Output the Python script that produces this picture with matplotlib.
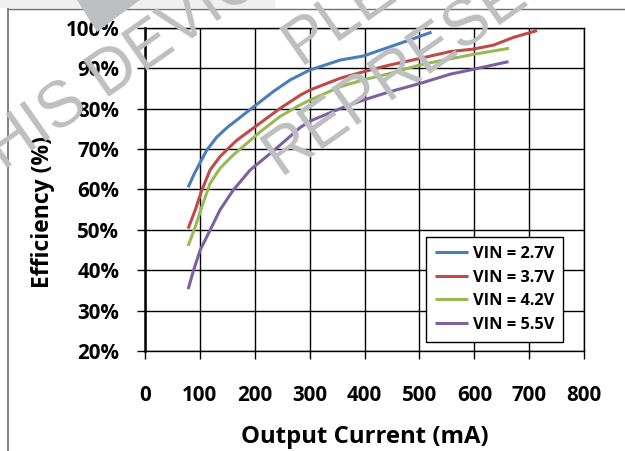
import matplotlib
matplotlib.use("Agg")
import matplotlib.pyplot as plt
from matplotlib.patches import Polygon, Rectangle
from matplotlib.lines import Line2D

# Efficiency vs. output current for four input voltages
series_labels = ["VIN = 2.7V", "VIN = 3.7V", "VIN = 4.2V", "VIN = 5.5V"]
series_colors = ["#4A7EBB", "#BE4B48", "#98B954", "#7D60A0"]

i_27 = [79, 90, 100, 113, 131, 150, 168, 198, 234, 265, 300, 356, 398, 447, 483, 522]
eff_27 = [60.5, 63.8, 66.4, 69.7, 72.9, 75.3, 77.2, 80.4, 84.2, 87.1, 89.5, 92.0, 93.0, 95.3, 97.0, 98.9]

i_37 = [79, 92, 104, 119, 137, 155, 168, 204, 246, 283, 301, 356, 398, 447, 501, 556, 598, 635, 671, 714]
eff_37 = [50.3, 54.9, 59.8, 64.8, 68.1, 70.5, 72.2, 75.8, 80.0, 83.3, 84.6, 87.5, 89.1, 90.8, 92.4, 94.1, 94.7, 95.7, 97.6, 99.3]

i_42 = [79, 92, 104, 119, 137, 161, 210, 246, 283, 301, 356, 398, 447, 501, 545, 598, 663]
eff_42 = [46.0, 50.7, 55.7, 61.5, 65.2, 68.5, 74.2, 78.0, 80.9, 82.1, 85.4, 87.1, 88.7, 90.8, 92.0, 93.4, 94.9]

i_55 = [79, 89, 101, 119, 137, 161, 192, 234, 262, 283, 301, 356, 398, 447, 501, 556, 598, 662]
eff_55 = [35.3, 40.0, 45.0, 49.9, 54.9, 59.8, 64.8, 69.5, 72.8, 75.3, 76.9, 80.0, 82.1, 84.2, 86.2, 88.5, 89.7, 91.6]

x_ticks = [0, 100, 200, 300, 400, 500, 600, 700, 800]
y_ticks = [20, 30, 40, 50, 60, 70, 80, 90, 100]
x_tick_labels = [str(v) for v in x_ticks]
y_tick_labels = [f"{v}%" for v in y_ticks]

W, H = 625, 451
fig = plt.figure(figsize=(W / 100, H / 100), dpi=100)
fig.patch.set_facecolor("white")

FONT = ["Open Sans", "DejaVu Sans"]

# outer chart frame (top and left edges)
fig.add_artist(Line2D([8 / W, 1.0], [1 - 9 / H, 1 - 9 / H], color="#6E6E6E", lw=1.0))
fig.add_artist(Line2D([8 / W, 8 / W], [0.0, 1 - 9 / H], color="#808080", lw=1.4))

ax = fig.add_axes([144.7 / W, 1 - 351 / H, (584.3 - 144.7) / W, (351 - 27.7) / H])
ax.set_xlim(0, 800)
ax.set_ylim(20, 100)
ax.set_xticks(x_ticks)
ax.set_yticks(y_ticks)
ax.set_xticklabels(x_tick_labels, fontfamily=FONT, fontweight="bold", fontsize=14.8)
ax.set_yticklabels(y_tick_labels, fontfamily=FONT, fontweight="bold", fontsize=14.8)
ax.grid(True, color="black", lw=1.0)
ax.set_axisbelow(True)
for name, sp in ax.spines.items():
    sp.set_color("black")
    sp.set_linewidth(1.0)
ax.spines["left"].set_linewidth(1.8)
ax.tick_params(axis="x", direction="out", length=5.8, width=1.0, pad=19)
ax.tick_params(axis="y", direction="out", length=5.8, width=1.0, pad=12.5)

data = [(i_27, eff_27), (i_37, eff_37), (i_42, eff_42), (i_55, eff_55)]
handles = []
for (xs, ys), lab, col in zip(data, series_labels, series_colors):
    h, = ax.plot(xs, ys, color=col, lw=2.2, label=lab, solid_capstyle="butt",
                 solid_joinstyle="round")
    handles.append(h)

leg = fig.legend(handles=handles, loc="upper left",
                 bbox_to_anchor=(426 / W, 1 - 237 / H),
                 prop={"family": FONT, "weight": "bold", "size": 11.8},
                 frameon=True, fancybox=False, framealpha=1.0,
                 edgecolor="black", borderpad=0.55, labelspacing=0.46,
                 handlelength=2.0, handletextpad=0.3, borderaxespad=0)
leg.get_frame().set_linewidth(1.0)

fig.text(365 / W, 1 - 443 / H, "Output Current (mA)", ha="center", va="baseline",
         fontfamily=FONT, fontweight="bold", fontsize=17.2)
fig.text(49 / W, 1 - 212 / H, "Efficiency (%)", ha="center", va="baseline",
         rotation=90, rotation_mode="anchor",
         fontfamily=FONT, fontweight="bold", fontsize=16.5)

# document watermark on top of the chart
WM = "#BEBFC1"
fig.add_artist(Rectangle((0, 1 - 8 / H), 275 / W, 8 / H, color="#F0F0F0", lw=0, zorder=20))
fig.add_artist(Polygon([(77 / W, 1.0), (140 / W, 1.0), (97 / W, 1 - 32 / H)],
                       closed=True, color=WM, lw=0, zorder=21))
wm_kw = dict(ha="left", va="baseline", rotation=35, rotation_mode="anchor",
             fontfamily="Liberation Sans", fontsize=46, color=WM, zorder=22)
fig.text(-28 / W, 1 - 194 / H, "THIS DEVICE", **wm_kw)
fig.text(300 / W, 1 - 66 / H, "PLEASE", **wm_kw)
fig.text(280 / W, 1 - 176 / H, "REPRESENTATIVE", **wm_kw)

fig.savefig("out.png", dpi=100, facecolor="white")
